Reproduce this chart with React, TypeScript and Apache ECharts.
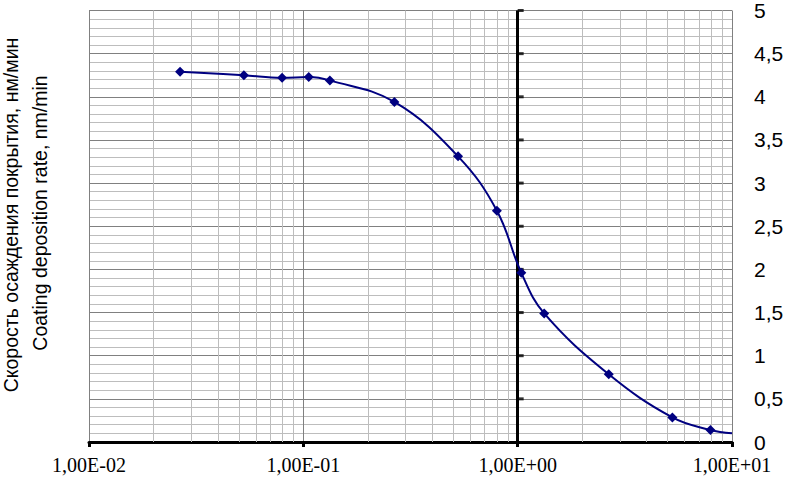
import React, { useEffect, useRef } from 'react';
import * as echarts from 'echarts';

// Data
const xValues = [0.0266, 0.0528, 0.0796, 0.106, 0.133, 0.266, 0.527, 0.8, 1.04, 1.33, 2.66, 5.27, 7.93, 10];
const yValues = [4.29, 4.25, 4.22, 4.23, 4.19, 3.94, 3.31, 2.68, 1.96, 1.49, 0.785, 0.285, 0.14, 0.1];
const markerShown = [true, true, true, true, true, true, true, true, true, true, true, true, true, false];

const xTickLabels = ['1,00E-02', '1,00E-01', '1,00E+00', '1,00E+01'];
const yTickLabels = ['0', '0,5', '1', '1,5', '2', '2,5', '3', '3,5', '4', '4,5', '5'];
const minorXLines = [
  0.02, 0.03, 0.04, 0.05, 0.06, 0.07, 0.08, 0.09,
  0.2, 0.3, 0.4, 0.5, 0.6, 0.7, 0.8, 0.9,
  2, 3, 4, 5, 6, 7, 8, 9,
];
const centralAxisX = 1;
const centralAxisTicks = [0.5, 1, 1.5, 2, 2.5, 3, 3.5, 4, 4.5, 5];

const titleRu = 'Скорость осаждения покрытия, нм/мин';
const titleEn = 'Coating deposition rate, nm/min';

const SERIF = "Liberation Serif, Times New Roman, serif";
const SANS = "Liberation Sans, Arial, sans-serif";

export default function App() {
  const ref = useRef<HTMLDivElement>(null);

  useEffect(() => {
    if (!ref.current) return;
    const chart = echarts.init(ref.current, null, { renderer: 'svg' });

    const seriesData = xValues.map((x, i) => ({
      value: [x, yValues[i]],
      symbol: markerShown[i] ? 'diamond' : 'none',
    }));

    chart.setOption({
      animation: false,
      backgroundColor: '#ffffff',
      grid: { left: 89, right: 55, top: 9, bottom: 36 },
      xAxis: {
        type: 'log',
        logBase: 10,
        min: 0.01,
        max: 10,
        axisLine: { show: true, lineStyle: { color: '#000', width: 3 } },
        axisTick: { show: true, length: 5, lineStyle: { color: '#000', width: 3 } },
        axisLabel: {
          margin: 13,
          fontSize: 20,
          fontFamily: SERIF,
          color: '#000',
          formatter: (v: number) => xTickLabels[Math.round(Math.log10(v)) + 2] ?? '',
        },
        splitLine: { show: true, lineStyle: { color: '#808080', width: 1 } },
      },
      yAxis: [
        {
          type: 'value',
          position: 'right',
          min: 0,
          max: 5,
          interval: 0.5,
          axisLine: { show: false },
          axisTick: { show: false },
          axisLabel: {
            margin: 22,
            fontSize: 21,
            fontFamily: SANS,
            color: '#000',
            padding: [5, 0, 0, 0],
            formatter: (v: number) => yTickLabels[Math.round(v / 0.5)] ?? '',
          },
          splitLine: { show: true, lineStyle: { color: '#808080', width: 1 } },
          minorTick: { show: false, splitNumber: 5 },
          minorSplitLine: { show: true, lineStyle: { color: '#bdbdbd', width: 1 } },
        },
      ],
      graphic: [
        {
          type: 'text',
          x: 11,
          y: 215,
          rotation: Math.PI / 2,
          style: {
            text: titleRu,
            fontSize: 19.5,
            fontFamily: SANS,
            fill: '#000',
            align: 'center',
            verticalAlign: 'middle',
          },
        },
        {
          type: 'text',
          x: 40,
          y: 213,
          rotation: Math.PI / 2,
          style: {
            text: titleEn,
            fontSize: 19.5,
            fontFamily: SANS,
            fill: '#000',
            align: 'center',
            verticalAlign: 'middle',
          },
        },
      ],
      series: [
        {
          name: 'minorGrid',
          type: 'line',
          data: [],
          silent: true,
          z: 1,
          markLine: {
            silent: true,
            symbol: 'none',
            label: { show: false },
            lineStyle: { color: '#bdbdbd', width: 1, type: 'solid' },
            data: minorXLines.map((x) => ({ xAxis: x })),
          },
        },
        {
          name: 'centralAxis',
          type: 'scatter',
          data: centralAxisTicks.map((y) => [centralAxisX, y]),
          symbol: 'rect',
          symbolSize: [6, 3],
          symbolOffset: [3, 0],
          itemStyle: { color: '#000' },
          silent: true,
          z: 3,
          markLine: {
            silent: true,
            symbol: 'none',
            label: { show: false },
            lineStyle: { color: '#000', width: 3, type: 'solid' },
            data: [{ xAxis: centralAxisX }],
          },
        },
        {
          name: 'rate',
          type: 'line',
          data: seriesData,
          smooth: 0.4,
          symbolSize: 10,
          showSymbol: true,
          lineStyle: { color: '#000080', width: 2 },
          itemStyle: { color: '#000080' },
          z: 5,
        },
      ],
    });

    return () => chart.dispose();
  }, []);

  return (
    <div
      ref={ref}
      style={{ position: 'fixed', left: 0, top: 0, width: 787, height: 478, background: '#fff' }}
    />
  );
}
